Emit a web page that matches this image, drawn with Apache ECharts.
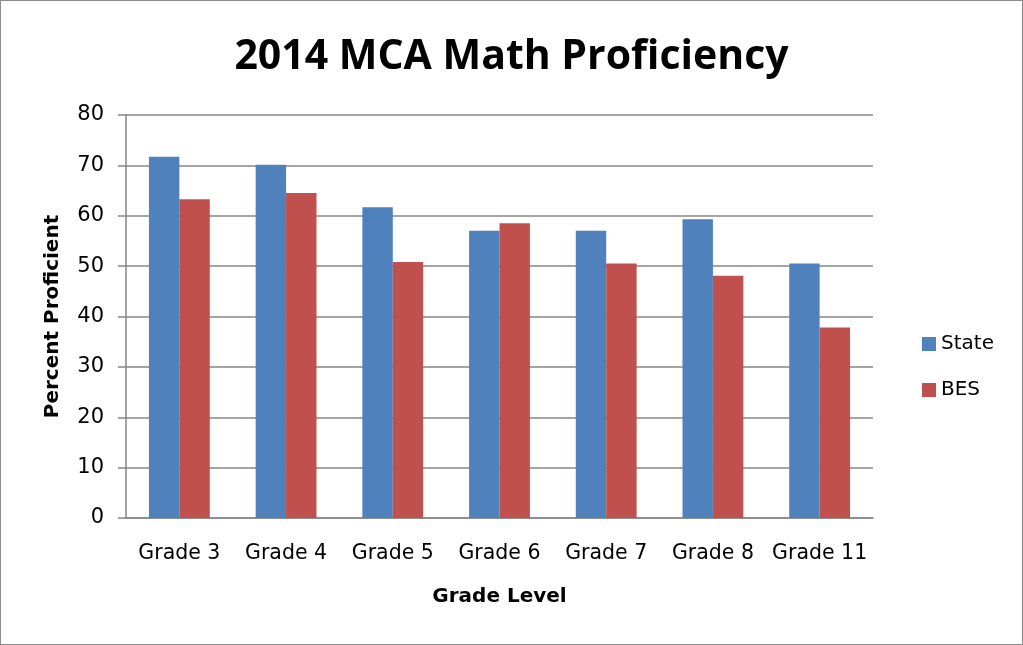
<!DOCTYPE html>
<html>
<head>
<meta charset="utf-8">
<script src="https://cdn.jsdelivr.net/npm/echarts@6/dist/echarts.min.js"></script>
<style>
  html, body { margin: 0; padding: 0; background: #fff; }
  #chart { width: 1021px; height: 643px; border: 1px solid #8c8c8c; }
</style>
</head>
<body>
<div id="chart"></div>
<script>
const grades = ["Grade 3", "Grade 4", "Grade 5", "Grade 6", "Grade 7", "Grade 8", "Grade 11"];
const stateValues = [71.7, 70.1, 61.7, 57.0, 57.0, 59.3, 50.5];
const besValues = [63.3, 64.5, 50.8, 58.5, 50.5, 48.1, 37.8];

const font = "'DejaVu Sans', sans-serif";
const chart = echarts.init(document.getElementById("chart"));

chart.setOption({
  animation: false,
  title: {
    text: "2014 MCA Math Proficiency",
    left: "center",
    top: 31,
    textStyle: { fontFamily: "'Open Sans', sans-serif", fontSize: 41, fontWeight: "bold", color: "#000" }
  },
  legend: {
    orient: "vertical",
    left: 916,
    top: 328,
    itemWidth: 14,
    itemHeight: 14,
    itemGap: 26,
    icon: "rect",
    textStyle: { fontFamily: font, fontSize: 20, color: "#000" },
    data: ["State", "BES"]
  },
  grid: { left: 125, right: 149, top: 114, bottom: 126 },
  xAxis: {
    type: "category",
    data: grades,
    name: "Grade Level",
    nameLocation: "middle",
    nameGap: 69,
    nameTextStyle: { fontFamily: font, fontSize: 20, fontWeight: "bold", color: "#000" },
    axisLine: { lineStyle: { color: "#868686", width: 1.5 } },
    axisTick: { show: false },
    axisLabel: { interval: 0, hideOverlap: false, fontFamily: font, fontSize: 20.5, color: "#000", margin: 25 }
  },
  yAxis: {
    type: "value",
    min: 0,
    max: 80,
    interval: 10,
    name: "Percent Proficient",
    nameLocation: "middle",
    nameGap: 63,
    nameTextStyle: { fontFamily: font, fontSize: 20, fontWeight: "bold", color: "#000" },
    axisLine: { show: true, lineStyle: { color: "#868686", width: 1.5 } },
    axisTick: { show: true, inside: false, length: 8, lineStyle: { color: "#868686", width: 1.5 } },
    axisLabel: { fontFamily: font, fontSize: 21, color: "#000", margin: 22 },
    splitLine: { lineStyle: { color: "#868686", width: 1.5 } }
  },
  series: [
    {
      name: "State",
      type: "bar",
      data: stateValues,
      barGap: "0%",
      barCategoryGap: "43%",
      itemStyle: { color: "#4f81bd" }
    },
    {
      name: "BES",
      type: "bar",
      data: besValues,
      itemStyle: { color: "#c0504d" }
    }
  ]
});
</script>
</body>
</html>
